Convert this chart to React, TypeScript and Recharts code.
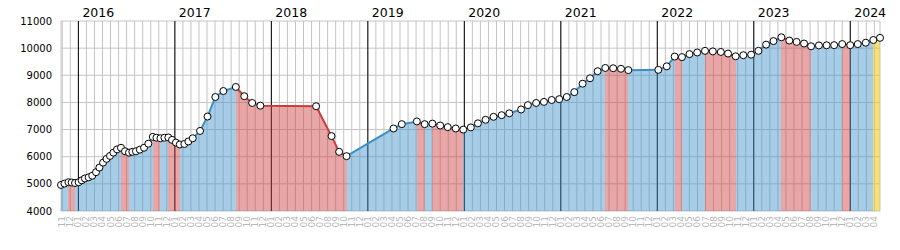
import { ComposedChart, Area, XAxis, YAxis, CartesianGrid } from "recharts";

// observation dates (irregular) and the value read at each one
const dates = [
  "2015-10-27", "2015-11-09", "2015-11-24", "2015-12-06", "2015-12-19",
  "2016-01-02", "2016-01-14", "2016-01-26", "2016-02-09", "2016-02-22",
  "2016-03-07", "2016-03-20", "2016-04-03", "2016-04-16", "2016-04-29",
  "2016-05-12", "2016-05-26", "2016-06-10", "2016-06-25", "2016-07-10",
  "2016-07-23", "2016-08-06", "2016-08-21", "2016-09-06", "2016-09-22",
  "2016-10-09", "2016-10-23", "2016-11-07", "2016-11-22", "2016-12-07",
  "2016-12-21", "2017-01-05", "2017-01-20", "2017-02-06", "2017-02-20",
  "2017-03-08", "2017-04-05", "2017-05-03", "2017-06-02", "2017-07-02",
  "2017-08-19", "2017-09-20", "2017-10-20", "2017-11-20", "2018-06-18",
  "2018-08-16", "2018-09-14", "2018-10-12", "2019-04-07", "2019-05-08",
  "2019-07-04", "2019-08-03", "2019-09-02", "2019-10-01", "2019-10-30",
  "2019-11-29", "2019-12-28", "2020-01-26", "2020-02-21", "2020-03-21",
  "2020-04-20", "2020-05-21", "2020-06-19", "2020-08-03", "2020-08-29",
  "2020-09-29", "2020-10-29", "2020-11-27", "2020-12-26", "2021-01-24",
  "2021-02-20", "2021-03-23", "2021-04-20", "2021-05-19", "2021-06-17",
  "2021-07-17", "2021-08-16", "2021-09-13", "2022-01-05", "2022-02-06",
  "2022-03-06", "2022-04-03", "2022-05-01", "2022-05-31", "2022-06-29",
  "2022-07-29", "2022-08-29", "2022-09-25", "2022-10-24", "2022-11-22",
  "2022-12-22", "2023-01-19", "2023-02-16", "2023-03-15", "2023-04-14",
  "2023-05-14", "2023-06-11", "2023-07-09", "2023-08-05", "2023-09-04",
  "2023-10-03", "2023-11-01", "2023-12-01", "2024-01-01", "2024-01-30",
  "2024-02-28", "2024-03-28", "2024-04-22",
];

const prices = [
  4960, 5010, 5060, 5050, 5030,
  5060, 5130, 5200, 5240, 5300,
  5430, 5600, 5780, 5920, 6030,
  6150, 6270, 6330, 6200, 6150,
  6180, 6200, 6260, 6330, 6480,
  6730, 6700, 6680, 6700, 6710,
  6620, 6520, 6450, 6470, 6560,
  6680, 6950, 7480, 8200, 8420,
  8570, 8230, 7980, 7880, 7860,
  6760, 6180, 6020, 7040, 7200,
  7300, 7200, 7220, 7150, 7090,
  7040, 7000, 7080, 7230, 7360,
  7470, 7530, 7600, 7740, 7900,
  7980, 8020, 8090, 8120, 8200,
  8380, 8690, 8890, 9150, 9270,
  9260, 9240, 9190, 9200, 9330,
  9690, 9670, 9780, 9840, 9900,
  9880, 9860, 9800, 9700, 9740,
  9760, 9900, 10130, 10260, 10400,
  10280, 10230, 10170, 10070, 10100,
  10105, 10110, 10150, 10110, 10150,
  10200, 10300, 10380,
];

const yearLabels = ["2016", "2017", "2018", "2019", "2020", "2021", "2022", "2023", "2024"];
const yTicks = [4000, 5000, 6000, 7000, 8000, 9000, 10000, 11000];

const BLUE = "#3a8fc9";
const RED = "#cc3a3a";
const GOLD = "#e9c81a";
const FONT = "DejaVu Sans";

// months since 2015-11-01, fractional
const toMonths = (s: string) => {
  const [y, m, d] = s.split("-").map(Number);
  const dim = new Date(y, m, 0).getDate();
  return (y - 2015) * 12 + (m - 11) + (d - 1) / dim;
};

const data = dates.map((d, i) => ({ t: toMonths(d), v: prices[i] }));
const tMin = data[0].t;
const tMax = data[data.length - 1].t;

const monthTicks: number[] = [];
for (let k = 0; k <= Math.floor(tMax); k++) monthTicks.push(k);
const yearTicks = yearLabels.map((y) => (Number(y) - 2015) * 12 - 10);

const segColor = (i: number) =>
  i === data.length - 2 ? GOLD : data[i + 1].v < data[i].v ? RED : BLUE;

const stops: { off: number; color: string }[] = [];
for (let i = 0; i < data.length - 1; i++) {
  const c = segColor(i);
  stops.push({ off: (data[i].t - tMin) / (tMax - tMin), color: c });
  stops.push({ off: (data[i + 1].t - tMin) / (tMax - tMin), color: c });
}

const monthLabel = (k: number) => String(((10 + k) % 12) + 1).padStart(2, "0");

const MonthTick = (props: any) => {
  const { x, y, payload } = props;
  return (
    <text
      transform={`translate(${x + 3},${y}) rotate(-90)`}
      textAnchor="end"
      fill="#b8b8b8"
      fontSize={9}
      fontFamily={FONT}
    >
      {monthLabel(payload.value)}
    </text>
  );
};

const YearTick = (props: any) => {
  const { x, y, payload } = props;
  const label = yearLabels[yearTicks.indexOf(payload.value)];
  return (
    <text x={x + 4} y={y} fill="#000" fontSize={12.5} fontFamily={FONT}>
      {label}
    </text>
  );
};

export default function App() {
  return (
    <div style={{ position: "absolute", left: 0, top: 0, width: 900, height: 250, background: "#fff" }}>
      <ComposedChart width={900} height={250} data={data} margin={{ top: 0, right: 20, bottom: 0, left: 0 }}>
        <defs>
          <linearGradient id="fillGrad" x1="0" y1="0" x2="1" y2="0">
            {stops.map((s, i) => (
              <stop
                key={i}
                offset={`${s.off * 100}%`}
                stopColor={s.color}
                stopOpacity={s.color === GOLD ? 0.55 : 0.45}
              />
            ))}
          </linearGradient>
          <linearGradient id="lineGrad" x1="0" y1="0" x2="1" y2="0">
            {stops.map((s, i) => (
              <stop key={i} offset={`${s.off * 100}%`} stopColor={s.color} />
            ))}
          </linearGradient>
        </defs>

        <CartesianGrid stroke="#c4c4c4" />
        <CartesianGrid stroke="#000" horizontal={false} verticalValues={yearTicks} syncWithTicks />

        <XAxis
          type="number"
          dataKey="t"
          domain={[tMin, tMax]}
          ticks={monthTicks}
          interval={0}
          height={39}
          axisLine={false}
          tickLine={false}
          tickSize={0}
          tickMargin={5}
          tick={<MonthTick />}
        />
        <XAxis
          xAxisId="yr"
          orientation="top"
          type="number"
          dataKey="t"
          domain={[tMin, tMax]}
          ticks={yearTicks}
          interval={0}
          height={21}
          axisLine={false}
          tickLine={false}
          tickSize={0}
          tickMargin={4}
          tick={<YearTick />}
        />
        <YAxis
          domain={[4000, 11000]}
          ticks={yTicks}
          interval={0}
          width={61}
          axisLine={false}
          tickLine={false}
          tickSize={0}
          tickMargin={9}
          tick={{ fill: "#000", fontSize: 10, fontFamily: FONT }}
        />

        <Area
          type="linear"
          dataKey="v"
          stroke="url(#lineGrad)"
          strokeWidth={2}
          fill="url(#fillGrad)"
          fillOpacity={1}
          dot={{ r: 3.5, fill: "#fff", stroke: "#000", strokeWidth: 1, fillOpacity: 1 }}
          activeDot={false}
          isAnimationActive={false}
        />
      </ComposedChart>
    </div>
  );
}
